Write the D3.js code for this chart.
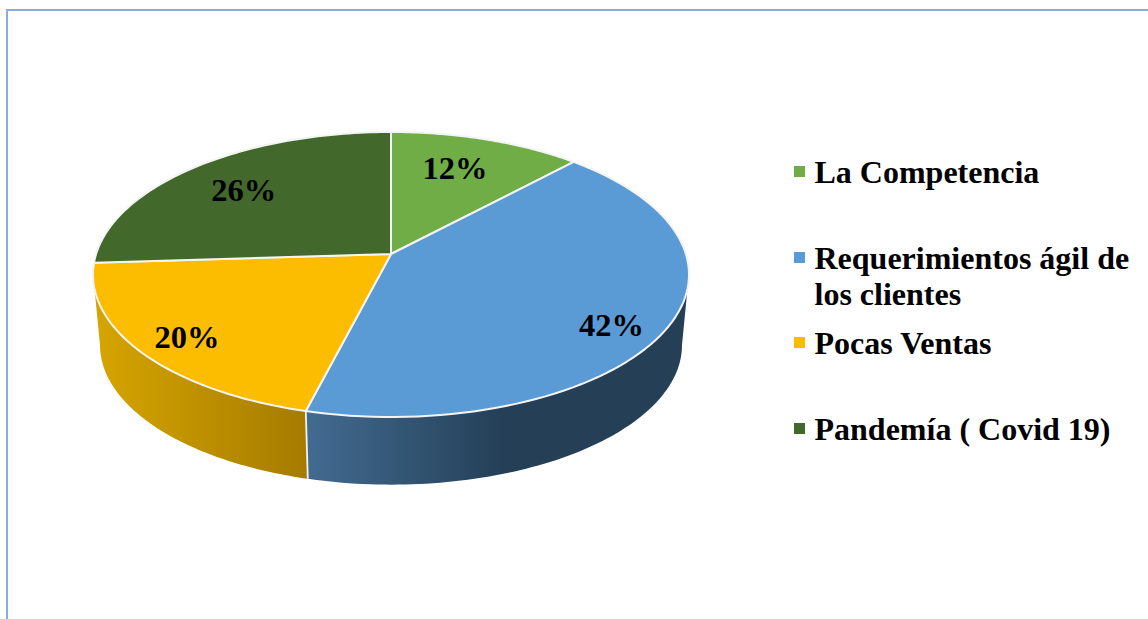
<!DOCTYPE html>
<html><head><meta charset="utf-8">
<script src="https://cdn.jsdelivr.net/npm/d3@7"></script>
<style>html,body{margin:0;padding:0;background:#fff;overflow:hidden}svg{display:block}text{font-family:"Liberation Serif",serif;font-weight:700;fill:#000}</style>
</head><body><svg id="c" width="1148" height="619"></svg>
<script>
const categories = ["La Competencia", "Requerimientos ágil de los clientes", "Pocas Ventas", "Pandemía ( Covid 19)"];
const values = [12, 42, 20, 26];
const colors = ["#70ad47", "#5b9bd5", "#fcbd00", "#43682b"];
const legendLines = [["La Competencia"], ["Requerimientos ágil de", "los clientes"], ["Pocas Ventas"], ["Pandemía ( Covid 19)"]];
const legendBaselines = [183, 269, 354, 440];
const labelNudge = [[-10, 2], [16, 18], [-21, 11], [3, 3]];

const svg = d3.select("#c");
const cx = 391, apexY = 254, a = 294.9, b = 139.55, k = 0.1439;
const ellCy = 274.5, lowCy = 345, sx = 0.9765, sy = 0.98;

// oblique pie projection: unit-disc angle + radius -> page position
function project(ang, r) {
  const u = r * Math.sin(ang), v = -r * Math.cos(ang), d = 1 - k * v;
  return [cx + a * u / d, apexY + b * v / d];
}
const lower = p => [cx + (p[0] - cx) * sx, lowCy + (p[1] - ellCy) * sy];
const rad = d3.scaleLinear().domain([0, 360]).range([0, 2 * Math.PI]);
const line = d3.line();
const rim = (a0, a1, fn = x => x) => d3.range(0, 81).map(i => fn(project(a0 + (a1 - a0) * i / 80, 1)));

const arcs = d3.pie().sort(null).value(d => d)(values);

// border
const borderCol = "#8fabdd";
svg.append("path").attr("d", "M7 619V10H1148").attr("fill", "none").attr("stroke", borderCol).attr("stroke-width", 2);

// gradients
const defs = svg.append("defs");
function grad(id, x1, x2, c1, c2) {
  const g = defs.append("linearGradient").attr("id", id).attr("gradientUnits", "userSpaceOnUse")
    .attr("x1", x1).attr("x2", x2).attr("y1", 0).attr("y2", 0);
  g.append("stop").attr("offset", 0).attr("stop-color", c1);
  g.append("stop").attr("offset", 1).attr("stop-color", c2);
}
grad("gBlue", 307, 505, "#426b91", "#243f56");
grad("gYellow", 95, 307, "#d6a500", "#a57b00");

// front walls
const split = arcs[1].endAngle;
const wallRimR = rad(104), wallRimL = rad(256), lowR = rad(98.3), lowL = rad(261.7);
const wallBlue = rim(wallRimR, split).concat(rim(split, lowR, lower));
const wallYellow = rim(split, wallRimL).concat(rim(lowL, split, lower));
svg.append("path").attr("d", line(wallBlue) + "Z").attr("fill", "url(#gBlue)");
svg.append("path").attr("d", line(wallYellow) + "Z").attr("fill", "url(#gYellow)");
svg.append("path").attr("d", line([project(split, 1), lower(project(split, 1))]))
  .attr("stroke", "#f2f2f2").attr("stroke-width", 1.8).attr("fill", "none");

// top face
arcs.forEach((s, i) => {
  const pts = [project(0, 0)].concat(rim(s.startAngle, s.endAngle));
  svg.append("path").attr("d", line(pts) + "Z").attr("fill", colors[i])
    .attr("stroke", "#f4f4f4").attr("stroke-width", 2).attr("stroke-linejoin", "round");
});

// value labels
arcs.forEach((s, i) => {
  const p = project((s.startAngle + s.endAngle) / 2, 0.75);
  svg.append("text").attr("x", p[0] + labelNudge[i][0]).attr("y", p[1] + labelNudge[i][1] + 11)
    .attr("text-anchor", "middle").attr("font-size", 32.5).text(values[i] + "%");
});

// legend
categories.forEach((c, i) => {
  svg.append("rect").attr("x", 794).attr("y", legendBaselines[i] - 17).attr("width", 11).attr("height", 11).attr("fill", colors[i]);
  legendLines[i].forEach((t, j) => {
    svg.append("text").attr("x", 814.500).attr("y", legendBaselines[i] + j * 36).attr("font-size", 32).text(t);
  });
});
</script></body></html>
